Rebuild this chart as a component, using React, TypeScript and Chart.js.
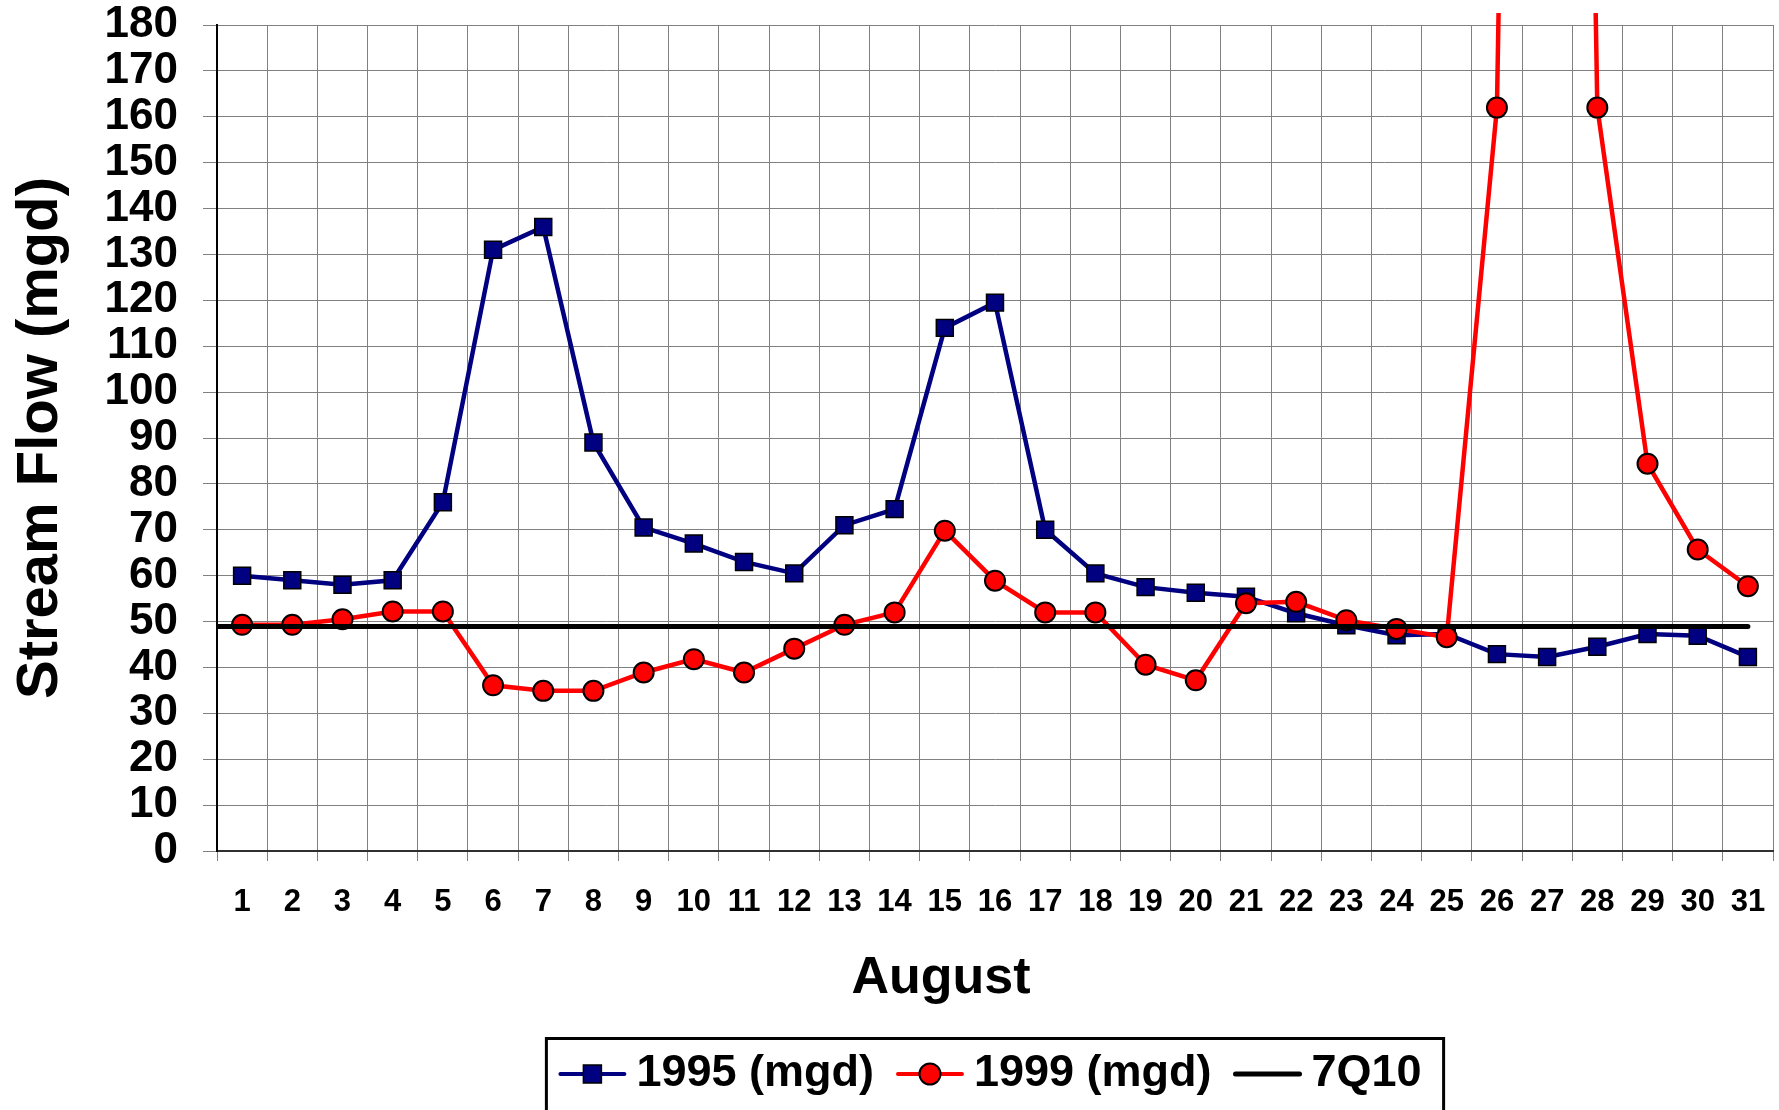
import React, { useEffect, useRef } from 'react';
import { Chart, registerables } from 'chart.js';

Chart.register(...registerables);

const FAMILY = '"Liberation Sans", Arial, Helvetica, sans-serif';

const days = ['1','2','3','4','5','6','7','8','9','10','11','12','13','14','15','16','17','18','19','20','21','22','23','24','25','26','27','28','29','30','31'];
const flow1995 = [60, 59, 58, 59, 76, 131, 136, 89, 70.5, 67, 63, 60.5, 71, 74.5, 114, 119.5, 70, 60.5, 57.5, 56.3, 55.4, 51.8, 49.2, 47, 47.3, 42.9, 42.3, 44.5, 47.3, 46.9, 42.3];
const flow1999 = [49.3, 49.3, 50.5, 52.2, 52.2, 36.1, 34.9, 34.9, 38.9, 41.8, 38.9, 44.1, 49.3, 52, 69.8, 58.9, 52, 52, 40.6, 37.2, 54, 54.3, 50.3, 48.4, 46.6, 162, 800, 162, 84.4, 65.7, 57.7];
const q10Value = 48.9;
const seriesLabels = ['1995 (mgd)', '1999 (mgd)', '7Q10'];
const yMin = 0;
const yMax = 180;
const yStep = 10;
const xTitle = 'August';
const yTitle = 'Stream Flow (mgd)';

const NAVY = '#000080';
const RED = '#FF0000';

const decorPlugin = {
  id: 'decor',
  afterDraw(chart: any) {
    const ctx = chart.ctx as CanvasRenderingContext2D;
    const area = chart.chartArea;
    ctx.save();
    ctx.fillStyle = '#000';
    // y title
    ctx.save();
    ctx.font = `bold 58px ${FAMILY}`;
    ctx.textAlign = 'center';
    ctx.textBaseline = 'middle';
    ctx.translate(41, (area.top + area.bottom) / 2);
    ctx.rotate(-Math.PI / 2);
    ctx.fillText(yTitle, 0, 0);
    ctx.restore();
    // x title
    ctx.font = `bold 52px ${FAMILY}`;
    ctx.textAlign = 'center';
    ctx.textBaseline = 'alphabetic';
    ctx.fillText(xTitle, (area.left + area.right) / 2 - 54, area.bottom + 142);

    // legend
    const ly = chart.height - 36;
    ctx.font = `bold 45px ${FAMILY}`;
    const widths = seriesLabels.map((t) => ctx.measureText(t).width);
    const iconW = 68, iconGap = 10, itemGap = 22, padL = 12, padR = 22;
    const total = widths.reduce((s, w) => s + iconW + iconGap + w, 0) + itemGap * (seriesLabels.length - 1);
    const boxW = padL + total + padR;
    const boxL = (area.left + area.right) / 2 - boxW / 2;
    ctx.lineWidth = 3;
    ctx.strokeStyle = '#000';
    ctx.strokeRect(boxL, chart.height - 71.5, boxW, 90);
    let x = boxL + padL;
    const datasets = chart.data.datasets;
    seriesLabels.forEach((label, i) => {
      const ds = datasets[i];
      ctx.beginPath();
      ctx.lineCap = 'round';
      ctx.lineWidth = i === 2 ? 5 : 4;
      ctx.strokeStyle = ds.borderColor;
      ctx.moveTo(x + 2, ly);
      ctx.lineTo(x + iconW - 2, ly);
      ctx.stroke();
      const mx = x + iconW / 2;
      if (ds.pointStyle === 'rect') {
        ctx.fillStyle = ds.pointBackgroundColor;
        ctx.fillRect(mx - 9, ly - 9, 18, 18);
        ctx.lineWidth = 1.5;
        ctx.strokeStyle = '#000';
        ctx.strokeRect(mx - 9, ly - 9, 18, 18);
      } else if (ds.pointStyle === 'circle' && ds.pointRadius > 0) {
        ctx.beginPath();
        ctx.arc(mx, ly, 10.5, 0, Math.PI * 2);
        ctx.fillStyle = ds.pointBackgroundColor;
        ctx.fill();
        ctx.lineWidth = 2;
        ctx.strokeStyle = '#000';
        ctx.stroke();
      }
      ctx.fillStyle = '#000';
      ctx.textAlign = 'left';
      ctx.textBaseline = 'middle';
      ctx.fillText(label, x + iconW + iconGap, ly);
      x += iconW + iconGap + widths[i] + itemGap;
    });
    ctx.restore();
  },
};

const zeroSidePadding = (scale: any) => {
  scale.paddingLeft = 0;
  scale.paddingRight = 0;
};

export default function App() {
  const canvasRef = useRef<HTMLCanvasElement | null>(null);

  useEffect(() => {
    if (!canvasRef.current) return;
    const chart = new Chart(canvasRef.current, {
      type: 'line',
      data: {
        labels: days,
        datasets: [
          {
            label: seriesLabels[0],
            data: flow1995,
            borderColor: NAVY,
            backgroundColor: NAVY,
            borderWidth: 4.5,
            pointStyle: 'rect',
            pointRadius: 12,
            pointBackgroundColor: NAVY,
            pointBorderColor: '#000',
            pointBorderWidth: 1.5,
            tension: 0,
            order: 3,
          },
          {
            label: seriesLabels[1],
            data: flow1999,
            borderColor: RED,
            backgroundColor: RED,
            borderWidth: 4.5,
            pointStyle: 'circle',
            pointRadius: 10,
            pointBackgroundColor: RED,
            pointBorderColor: '#000',
            pointBorderWidth: 2,
            tension: 0,
            order: 2,
            clip: { left: 14, top: 12, right: 14, bottom: 14 },
          },
          {
            label: seriesLabels[2],
            data: [
              { x: 0.5, y: q10Value },
              { x: days.length, y: q10Value },
            ],
            xAxisID: 'x2',
            borderColor: '#000',
            backgroundColor: '#000',
            borderWidth: 5,
            borderCapStyle: 'round',
            pointStyle: 'circle',
            pointRadius: 0,
            tension: 0,
            order: 1,
          },
        ] as any,
      },
      options: {
        animation: false,
        responsive: false,
        maintainAspectRatio: false,
        layout: { autoPadding: false, padding: { top: 25, right: 6, left: 0, bottom: 65 } },
        plugins: {
          legend: { display: false },
          tooltip: { enabled: false },
          title: { display: false },
        },
        scales: {
          x: {
            type: 'category',
            offset: true,
            grid: { offset: true, color: '#808080', lineWidth: 1, tickLength: 10, tickColor: '#808080' },
            border: { display: true, color: '#303030', width: 2 },
            ticks: {
              color: '#000',
              padding: 23,
              maxRotation: 0,
              autoSkip: false,
              font: { family: FAMILY, size: 31, weight: 'bold', lineHeight: 1.2 },
            },
            afterFit: (scale: any) => {
              scale.height = 194;
              zeroSidePadding(scale);
            },
          },
          x2: {
            type: 'linear',
            display: false,
            min: 0.5,
            max: days.length + 0.5,
            ticks: { display: false },
            grid: { display: false },
            afterFit: zeroSidePadding,
          },
          y: {
            type: 'linear',
            min: yMin,
            max: yMax,
            grid: { color: '#808080', lineWidth: 1, tickLength: 14, tickColor: '#808080' },
            border: { display: true, color: '#000', width: 2 },
            ticks: {
              stepSize: yStep,
              autoSkip: false,
              color: '#000',
              padding: 25,
              font: { family: FAMILY, size: 44, weight: 'bold', lineHeight: 1 },
            },
            afterFit: (scale: any) => {
              scale.width = 217;
              scale.paddingTop = 0;
              scale.paddingBottom = 0;
            },
          },
        },
      } as any,
      plugins: [decorPlugin],
    });
    return () => chart.destroy();
  }, []);

  return (
    <div style={{ position: 'absolute', left: 0, top: 0, width: 1779, height: 1110, background: '#fff' }}>
      <canvas ref={canvasRef} width={1779} height={1110} style={{ display: 'block' }} />
    </div>
  );
}
